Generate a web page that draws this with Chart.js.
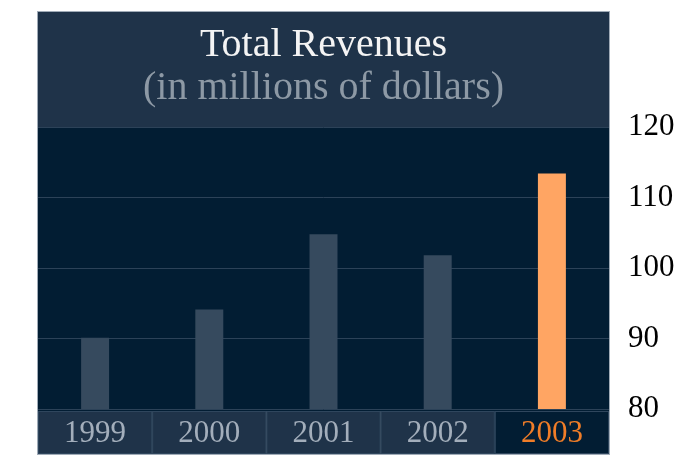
<!DOCTYPE html>
<html>
<head>
<meta charset="utf-8">
<title>Total Revenues</title>
<script src="https://cdn.jsdelivr.net/npm/chart.js@4/dist/chart.umd.min.js"></script>
<style>
  html, body { margin: 0; padding: 0; background: #ffffff; }
  #wrap { width: 687px; height: 456px; }
</style>
</head>
<body>
<div id="wrap"><canvas id="revenueChart" width="687" height="456"></canvas></div>
<script>
const years = ['1999', '2000', '2001', '2002', '2003'];
const revenues = [90.1, 94.1, 104.8, 101.8, 113.4]; // millions of dollars
const highlightYear = '2003';
const yTicks = [80, 90, 100, 110, 120];

const SERIF = "'Liberation Serif', 'DejaVu Serif', serif";
const HEAD_BG = '#1f3349';
const PLOT_BG = '#021d33';
const BAR = '#364a5e';
const BAR_HI = '#ffa563';
const LABEL = '#a3aebb';
const LABEL_HI = '#f07d28';

const isHi = i => years[i] === highlightYear;

// dark panel behind the title, the plot and the year strip
const panelPlugin = {
    id: 'panel',
    beforeDraw(chart) {
        const ctx = chart.ctx;
        const area = chart.chartArea;
        const x = chart.scales.x;
        const top = 12;
        const bottom = x.bottom + 2;
        const stripTop = area.bottom + 2;

        ctx.save();
        ctx.fillStyle = HEAD_BG;
        ctx.fillRect(area.left, top, area.right - area.left, area.top - top);
        ctx.fillStyle = PLOT_BG;
        ctx.fillRect(area.left, area.top, area.right - area.left, stripTop - area.top);

        // one cell per year under the bars
        const w = (area.right - area.left) / years.length;
        years.forEach((y, i) => {
            const cx = x.getPixelForTick(i);
            ctx.fillStyle = isHi(i) ? PLOT_BG : HEAD_BG;
            ctx.fillRect(cx - w / 2, stripTop, w, bottom - stripTop);
            ctx.strokeStyle = '#2f465d';
            ctx.lineWidth = 1;
            ctx.strokeRect(cx - w / 2 + 0.5, stripTop + 0.5, w - 1, bottom - stripTop - 1);
        });

        ctx.strokeStyle = 'rgba(120,136,152,0.7)';
        ctx.lineWidth = 1;
        ctx.strokeRect(area.left - 0.5, top - 0.5, area.right - area.left + 1, bottom - top + 1);
        ctx.restore();
    }
};

new Chart(document.getElementById('revenueChart'), {
    type: 'bar',
    data: {
        labels: years,
        datasets: [{
            data: revenues,
            backgroundColor: years.map((y, i) => isHi(i) ? BAR_HI : BAR),
            borderWidth: 0,
            categoryPercentage: 1,
            barPercentage: 0.245
        }]
    },
    options: {
        responsive: false,
        animation: false,
        layout: { padding: { left: 38, right: 12, top: 0, bottom: 4 } },
        plugins: {
            legend: { display: false },
            tooltip: { enabled: false },
            title: {
                display: true,
                text: 'Total Revenues',
                color: '#f4f4f4',
                fullSize: false,
                font: { family: SERIF, size: 40, weight: 'normal', lineHeight: 1 },
                padding: { top: 25.5, bottom: 3 }
            },
            subtitle: {
                display: true,
                text: '(in millions of dollars)',
                color: '#8d99a5',
                fullSize: false,
                font: { family: SERIF, size: 40, weight: 'normal', lineHeight: 1 },
                padding: { top: 0, bottom: 18.5 }
            }
        },
        scales: {
            x: {
                grid: { display: false, drawTicks: false },
                border: { display: false },
                afterFit: axis => { axis.height = 43; },
                ticks: {
                    padding: 6,
                    color: ctx => isHi(ctx.index) ? LABEL_HI : LABEL,
                    font: { family: SERIF, size: 31 }
                }
            },
            y: {
                position: 'right',
                min: yTicks[0],
                max: yTicks[yTicks.length - 1],
                afterBuildTicks: axis => { axis.ticks = yTicks.map(v => ({ value: v })); },
                afterFit: axis => { axis.width = 66; },
                grid: { color: '#2c4258', lineWidth: 1, drawTicks: false },
                border: { display: false },
                ticks: {
                    padding: 19,
                    color: '#000000',
                    font: { family: SERIF, size: 31 }
                }
            }
        }
    },
    plugins: [panelPlugin]
});
</script>
</body>
</html>
